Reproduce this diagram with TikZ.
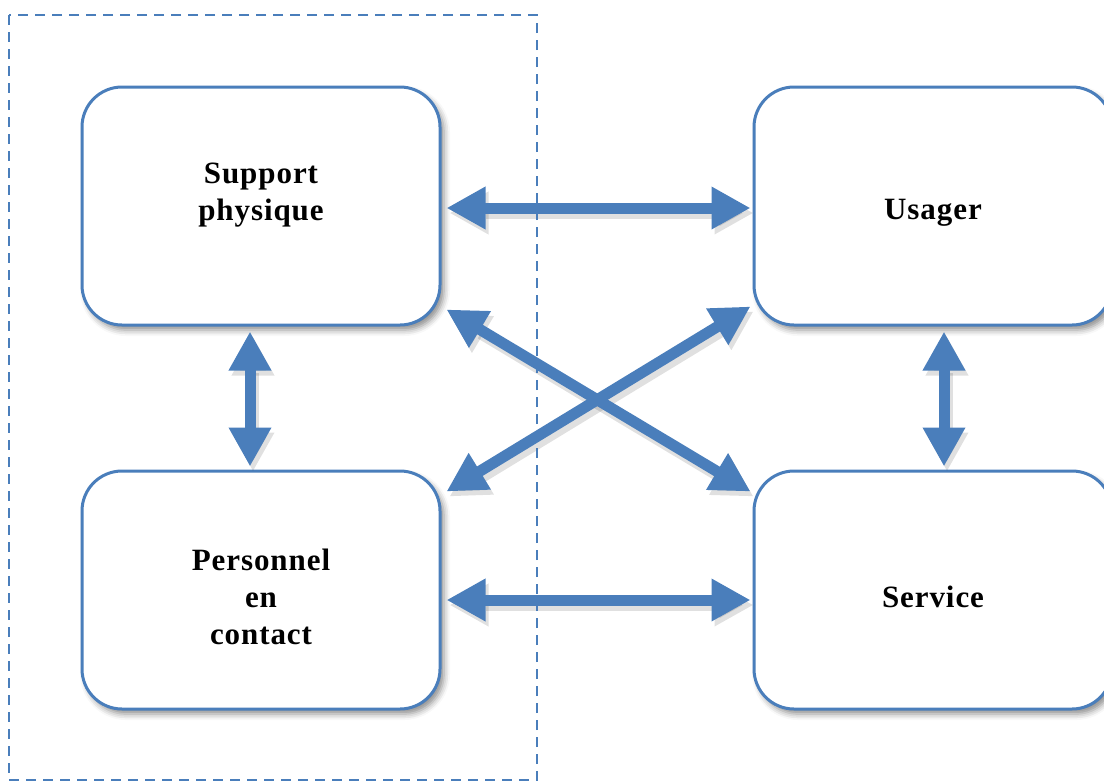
\documentclass[tikz,border=0pt]{standalone}
\usepackage{fontspec}
\setmainfont{Liberation Serif}
\usetikzlibrary{arrows.meta,shadows.blur}
\definecolor{boxblue}{RGB}{74,126,187}
\begin{document}
\begin{tikzpicture}[x=1pt,y=-1pt,
  block/.style={draw=boxblue, line width=3pt, rounded corners=40pt, fill=white,
    minimum width=358pt, minimum height=238pt, inner sep=0pt,
    blur shadow={shadow xshift=4pt, shadow yshift=-5pt, shadow blur radius=6pt, shadow opacity=45}},
  caption/.style={font=\fontsize{31}{37}\selectfont\bfseries\addfontfeature{LetterSpace=3},
    align=center, text=black},
  tips/.style={{Triangle[length=39pt,width=40pt]}-{Triangle[length=39pt,width=40pt]}},
  link/.style={tips, draw=boxblue, line width=11pt},
  linkshadow/.style={tips, draw=black, line width=12pt, opacity=0.12,
    transform canvas={xshift=3pt, yshift=-5pt}},
  frame/.style={draw=boxblue, line width=2pt, dash pattern=on 10pt off 7pt}
]
\useasboundingbox (0,0) rectangle (1104,782);

% the four blocks
\node[block] (sp) at (261,206) {};
\node[block] (pc) at (261,590) {};
\node[block] (us) at (933,206) {};
\node[block] (sv) at (933,590) {};

% end points of the links
\coordinate (spE) at ([xshift=5pt,yshift=-2pt]sp.east);
\coordinate (usW) at ([xshift=-2pt,yshift=-2pt]us.west);
\coordinate (pcE) at ([xshift=5pt,yshift=-10pt]pc.east);
\coordinate (svW) at ([xshift=-2pt,yshift=-10pt]sv.west);
\coordinate (spS) at ([xshift=-11pt,yshift=-5pt]sp.south);
\coordinate (pcN) at ([xshift=-11pt,yshift=3pt]pc.north);
\coordinate (usS) at ([xshift=11pt,yshift=-5pt]us.south);
\coordinate (svN) at ([xshift=11pt,yshift=3pt]sv.north);
\coordinate (spSE) at ([xshift=5pt,yshift=17pt]sp.south east);
\coordinate (svNW) at ([xshift=-2pt,yshift=-22pt]sv.north west);
\coordinate (usSW) at ([xshift=-2pt,yshift=20pt]us.south west);
\coordinate (pcNE) at ([xshift=5pt,yshift=-22pt]pc.north east);

% soft shadows under the links
\foreach \a/\b in {spE/usW, pcE/svW, spS/pcN, usS/svN, spSE/svNW, usSW/pcNE}
  \draw[linkshadow] (\a) -- (\b);

% links
\draw[link] (spE) -- (usW);
\draw[link] (pcE) -- (svW);
\draw[link] (spS) -- (pcN);
\draw[link] (usS) -- (svN);
\draw[link] (spSE) -- (svNW);
\draw[link] (usSW) -- (pcNE);

% labels
\node[caption] (t1) at (261,195) {Support\\physique};
\node[caption] (t2) at (261,597) {Personnel\\en\\contact};
\node[caption] (t3) at (933,213) {Usager};
\node[caption] (t4) at (933,597) {Service};

% dashed frame
\draw[frame] (9,15) rectangle (537,780);
\end{tikzpicture}
\end{document}
